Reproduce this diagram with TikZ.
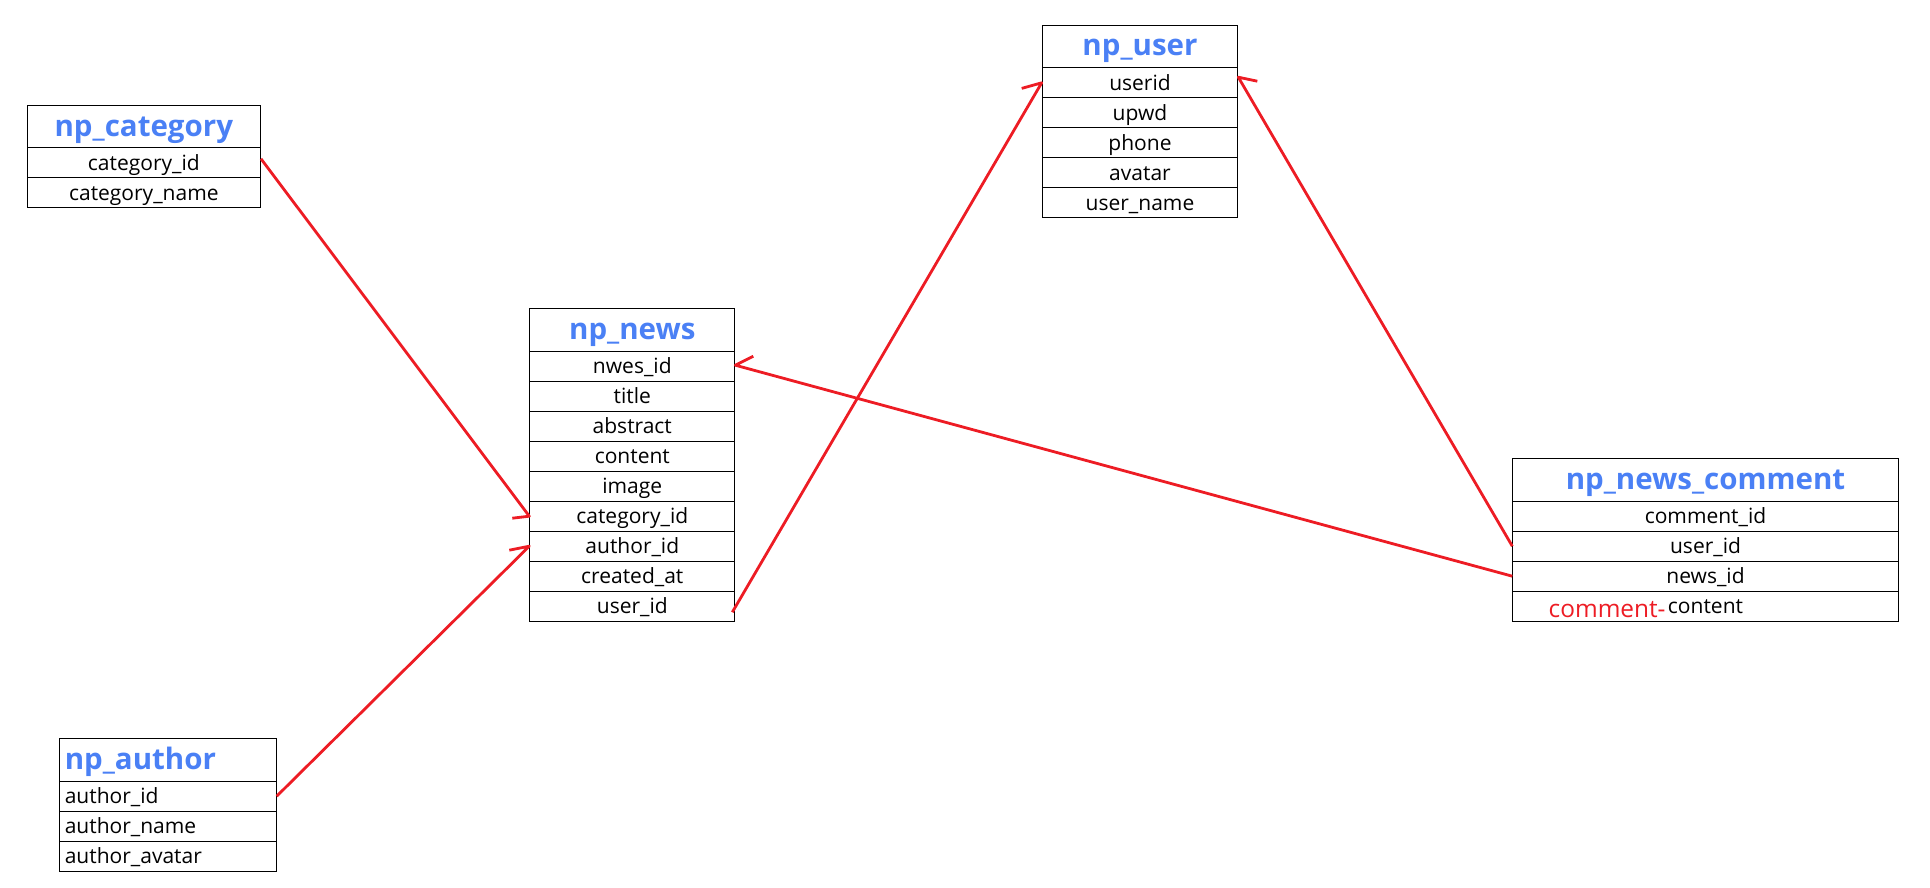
\documentclass[tikz,border=0pt]{standalone}
\usepackage{fontspec}
\setmainfont{Open Sans}
\definecolor{hdrblue}{HTML}{4A80F5}
\definecolor{lnred}{HTML}{ED1C24}
\tikzset{
  hdr/.style={draw, line width=1pt, inner sep=0pt, minimum height=42.4pt, anchor=north west,
    text=hdrblue, font=\fontsize{29.5pt}{31pt}\selectfont\bfseries, text height=21pt, text depth=2.4pt},
  row/.style={draw, line width=1pt, inner sep=0pt, minimum height=30pt, anchor=north west,
    font=\fontsize{21pt}{24pt}\selectfont, text height=17pt, text depth=2pt},
  lft/.style={text width=#1, align=left, inner xsep=5pt},
  rowtext/.style={inner sep=0pt, font=\fontsize{21pt}{24pt}\selectfont, text height=17pt, text depth=2pt},
  redtext/.style={inner sep=0pt, text=lnred, font=\fontsize{24.4pt}{26pt}\selectfont},
  link/.style={draw=lnred, line width=2.8pt, line join=round},
}
\begin{document}
\begin{tikzpicture}[x=1pt, y=-1pt]
\path[use as bounding box] (0,0) rectangle (1930,888);

% np_category
\node[hdr, minimum width=233.3pt] (cath) at (26.7,105) {np\_category};
\node[row, minimum width=233.3pt] (cat1) at (26.7,147.3) {category\_id};
\node[row, minimum width=233.3pt] (cat2) at (26.7,177.3) {category\_name};

% np_news
\node[hdr, minimum width=205pt] (newsh) at (529.3,308.3) {np\_news};
\node[row, minimum width=205pt] (news1) at (529.3,350.7) {nwes\_id};
\node[row, minimum width=205pt] (news2) at (529.3,380.7) {title};
\node[row, minimum width=205pt] (news3) at (529.3,410.7) {abstract};
\node[row, minimum width=205pt] (news4) at (529.3,440.7) {content};
\node[row, minimum width=205pt] (news5) at (529.3,470.7) {image};
\node[row, minimum width=205pt] (news6) at (529.3,500.7) {category\_id};
\node[row, minimum width=205pt] (news7) at (529.3,530.7) {author\_id};
\node[row, minimum width=205pt] (news8) at (529.3,560.7) {created\_at};
\node[row, minimum width=205pt] (news9) at (529.3,590.7) {user\_id};

% np_user
\node[hdr, minimum width=195.6pt] (userh) at (1041.7,25) {np\_user};
\node[row, minimum width=195.6pt] (user1) at (1041.7,67.3) {userid};
\node[row, minimum width=195.6pt] (user2) at (1041.7,97.3) {upwd};
\node[row, minimum width=195.6pt] (user3) at (1041.7,127.3) {phone};
\node[row, minimum width=195.6pt] (user4) at (1041.7,157.3) {avatar};
\node[row, minimum width=195.6pt] (user5) at (1041.7,187.3) {user\_name};

% np_news_comment
\node[hdr, minimum width=385.4pt] (comh) at (1512.3,458.3) {np\_news\_comment};
\node[row, minimum width=385.4pt] (com1) at (1512.3,500.7) {comment\_id};
\node[row, minimum width=385.4pt] (com2) at (1512.3,530.7) {user\_id};
\node[row, minimum width=385.4pt] (com3) at (1512.3,560.7) {news\_id};
\node[row, minimum width=385.4pt] (com4) at (1512.3,590.7) {};
\node[rowtext] (com4t) at (com4.center) {content};
\node[redtext, anchor=base east, xshift=-2pt, yshift=-4pt] (com4r) at (com4t.base west) {comment-};

% np_author
\node[hdr, lft=206.4pt] (authh) at (59.3,738.3) {np\_author};
\node[row, lft=206.4pt] (auth1) at (59.3,780.7) {author\_id};
\node[row, lft=206.4pt] (auth2) at (59.3,810.7) {author\_name};
\node[row, lft=206.4pt] (auth3) at (59.3,840.7) {author\_avatar};

% connectors
\draw[link] ([yshift=4pt]cat1.east) -- (news6.west) -- ++(-17,2);
\draw[link] (auth1.east) -- (news7.west) -- ++(-20,4);
\draw[link] ([xshift=-3pt,yshift=-6pt]news9.east) -- (user1.west) -- ++(-20,5.6);
\draw[link] (com2.west) -- ([yshift=5.6pt]user1.east) -- ++(19,4);
\draw[link] (com3.west) -- ([yshift=1pt]news1.east) -- ++(18,-9);
\end{tikzpicture}
\end{document}
